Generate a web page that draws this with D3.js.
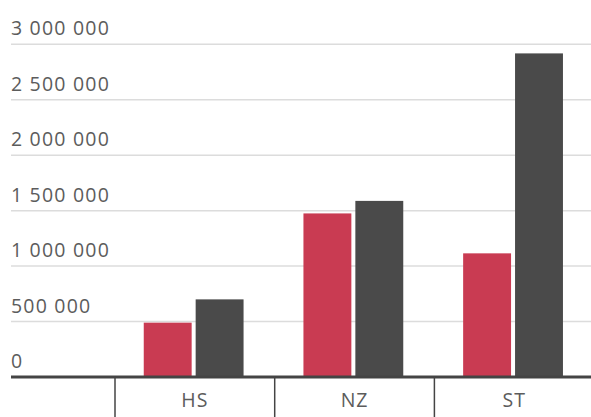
<!DOCTYPE html>
<html>
<head>
<meta charset="utf-8">
<script src="https://cdn.jsdelivr.net/npm/d3@7"></script>
<style>
  html, body { margin: 0; padding: 0; background: #fff; }
  svg { display: block; }
</style>
</head>
<body>
<svg id="chart" width="591" height="417"></svg>
<script>
const categories = ["HS", "NZ", "ST"];
const seriesNames = ["serie1", "serie2"];
const seriesColors = ["#c93b52", "#4a4a4a"];
const serie1 = [490000, 1475000, 1115000];
const serie2 = [700000, 1588000, 2918000];
const yTicks = [0, 500000, 1000000, 1500000, 2000000, 2500000, 3000000];

const svg = d3.select("#chart");
const W = 591, H = 417;
const left = 11, y0 = 377, yTop = 44.3;
const font = "'Open Sans', sans-serif";

const y = d3.scaleLinear().domain([0, 3000000]).range([y0, yTop]);
const bandW = 159.7;
const x = d3.scaleBand().domain(categories).range([115, 115 + bandW * categories.length]).padding(0);
const x1 = d3.scaleBand().domain(seriesNames)
  .range([bandW * 0.18, bandW * 0.805]).paddingInner(0.077).paddingOuter(0);

const fmt = d3.formatLocale({decimal: ",", thousands: " ", grouping: [3], currency: ["", ""]}).format(",d");

// gridlines
const grid = svg.append("g");
grid.selectAll("line").data(yTicks.filter(d => d > 0)).join("line")
  .attr("x1", left).attr("x2", W)
  .attr("y1", d => y(d)).attr("y2", d => y(d))
  .attr("stroke", "#dcdcdc").attr("stroke-width", 1.5);

// y labels
svg.append("g").selectAll("text").data(yTicks).join("text")
  .attr("x", left).attr("y", d => y(d) - 9)
  .attr("font-family", font).attr("font-size", 19.5)
  .attr("letter-spacing", 1.2)
  .attr("fill", "#5c5c5c")
  .text(d => fmt(d));

// bars
const data = [serie1, serie2];
const groups = svg.append("g").selectAll("g").data(categories).join("g")
  .attr("transform", d => `translate(${x(d)},0)`);
groups.selectAll("rect").data((c, i) => seriesNames.map((s, j) => ({s, v: data[j][i], j})))
  .join("rect")
  .attr("x", d => x1(d.s))
  .attr("width", x1.bandwidth())
  .attr("y", d => y(d.v))
  .attr("height", d => y0 - y(d.v))
  .attr("fill", d => seriesColors[d.j]);

// baseline
svg.append("line").attr("x1", left).attr("x2", W).attr("y1", y0).attr("y2", y0)
  .attr("stroke", "#444").attr("stroke-width", 3);

// category dividers
const xAxis = svg.append("g");
xAxis.selectAll("line").data(categories).join("line")
  .attr("x1", d => x(d)).attr("x2", d => x(d))
  .attr("y1", y0).attr("y2", H)
  .attr("stroke", "#444").attr("stroke-width", 1.5);
xAxis.selectAll("text").data(categories).join("text")
  .attr("x", d => x(d) + x.bandwidth() / 2)
  .attr("y", 407)
  .attr("text-anchor", "middle")
  .attr("font-family", font).attr("font-size", 19.5)
  .attr("letter-spacing", 1)
  .attr("fill", "#5c5c5c")
  .text(d => d);
</script>
</body>
</html>
